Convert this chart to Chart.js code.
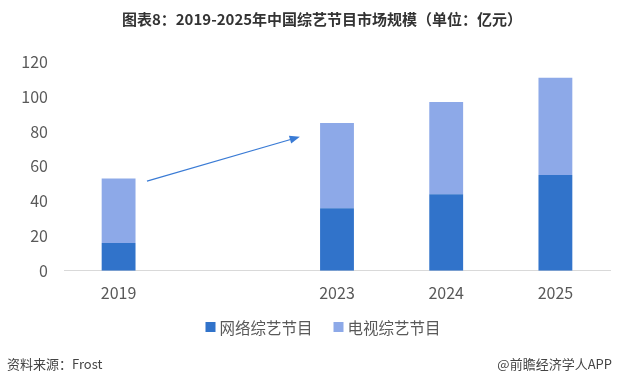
<!DOCTYPE html>
<html>
<head>
<meta charset="utf-8">
<script src="https://cdn.jsdelivr.net/npm/chart.js@4/dist/chart.umd.min.js"></script>
<style>
  html, body { margin: 0; padding: 0; background: #fff; }
  #wrap { position: relative; width: 617px; height: 385px; }
</style>
</head>
<body>
<div id="wrap"><canvas id="chart" width="617" height="385"></canvas></div>
<script>
// data (亿元)
const years = ["2019", "", "2023", "2024", "2025"];
const onlineShows = [16, null, 36, 44, 55];
const tvShows = [37, null, 49, 53, 56];
const yTicks = [0, 20, 40, 60, 80, 100, 120];

// trend arrow, in data units (category index, value)
const arrowFrom = [0.26, 51.5];
const arrowTo = [1.66, 77];

const FONT = "'Noto Sans CJK SC', 'Noto Sans', sans-serif";

const arrowPlugin = {
  id: "arrow",
  afterDatasetsDraw(chart) {
    const { ctx, scales } = chart;
    const x1 = scales.x.getPixelForValue(arrowFrom[0]);
    const y1 = scales.y.getPixelForValue(arrowFrom[1]);
    const x2 = scales.x.getPixelForValue(arrowTo[0]);
    const y2 = scales.y.getPixelForValue(arrowTo[1]);
    const ang = Math.atan2(y2 - y1, x2 - x1);
    const head = 11;
    ctx.save();
    ctx.strokeStyle = "#3A7BD5";
    ctx.fillStyle = "#3A7BD5";
    ctx.lineWidth = 1.2;
    ctx.beginPath();
    ctx.moveTo(x1, y1);
    ctx.lineTo(x2 - Math.cos(ang) * head * 0.8, y2 - Math.sin(ang) * head * 0.8);
    ctx.stroke();
    ctx.beginPath();
    ctx.moveTo(x2, y2);
    ctx.lineTo(x2 - head * Math.cos(ang - 0.38), y2 - head * Math.sin(ang - 0.38));
    ctx.lineTo(x2 - head * Math.cos(ang + 0.38), y2 - head * Math.sin(ang + 0.38));
    ctx.closePath();
    ctx.fill();
    ctx.restore();
  },
};

// legend drawn from the datasets, centred under the plot
const legendPlugin = {
  id: "bottomLegend",
  afterDraw(chart) {
    const ctx = chart.ctx;
    const sets = chart.data.datasets;
    const box = 10, gap = 4, itemGap = 21, cy = 327;
    ctx.save();
    ctx.font = "15.5px " + FONT;
    const widths = sets.map((s) => ctx.measureText(s.label).width);
    const total = widths.reduce((a, w) => a + box + gap + w, 0) + itemGap * (sets.length - 1);
    let x = 323 - total / 2;
    ctx.textBaseline = "middle";
    ctx.textAlign = "left";
    sets.forEach((s, i) => {
      ctx.fillStyle = s.backgroundColor;
      ctx.fillRect(x, cy - box / 2, box, box);
      x += box + gap;
      ctx.fillStyle = "#595959";
      ctx.fillText(s.label, x, cy + 1);
      x += widths[i] + itemGap;
    });
    ctx.restore();
  },
};

const textPlugin = {
  id: "texts",
  afterDraw(chart) {
    const ctx = chart.ctx;
    ctx.save();
    ctx.fillStyle = "#333";
    ctx.font = "bold 15px " + FONT;
    ctx.textAlign = "center";
    ctx.textBaseline = "middle";
    ctx.fillText("图表8：2019-2025年中国综艺节目市场规模（单位：亿元）", 322, 19);
    ctx.font = "13px " + FONT;
    ctx.fillStyle = "#444";
    ctx.textAlign = "left";
    ctx.fillText("资料来源：Frost", 7, 364);
    ctx.textAlign = "right";
    ctx.fillText("@前瞻经济学人APP", 612, 364);
    ctx.restore();
  },
};

new Chart(document.getElementById("chart"), {
  type: "bar",
  data: {
    labels: years,
    datasets: [
      {
        label: "网络综艺节目",
        data: onlineShows,
        backgroundColor: "#3173CA",
        categoryPercentage: 1,
        barPercentage: 0.31,
      },
      {
        label: "电视综艺节目",
        data: tvShows,
        backgroundColor: "#8DA9E8",
        categoryPercentage: 1,
        barPercentage: 0.31,
      },
    ],
  },
  options: {
    responsive: false,
    animation: false,
    layout: {
      padding: { top: 62, right: 7, bottom: 69, left: 0 },
    },
    scales: {
      x: {
        stacked: true,
        grid: { display: false, drawTicks: false },
        border: { color: "#d9d9d9", width: 1 },
        ticks: {
          color: "#595959",
          padding: 13,
          font: { family: FONT, size: 16 },
        },
      },
      y: {
        stacked: true,
        min: 0,
        max: 120,
        afterFit(scale) {
          scale.width = 64;
        },
        afterBuildTicks(scale) {
          scale.ticks = yTicks.map((v) => ({ value: v }));
        },
        grid: { display: false, drawTicks: false },
        border: { display: false },
        ticks: {
          color: "#595959",
          padding: 16,
          font: { family: FONT, size: 16 },
        },
      },
    },
    plugins: {
      title: { display: false },
      tooltip: { enabled: false },
      legend: { display: false },
    },
  },
  plugins: [arrowPlugin, legendPlugin, textPlugin],
});
</script>
</body>
</html>
